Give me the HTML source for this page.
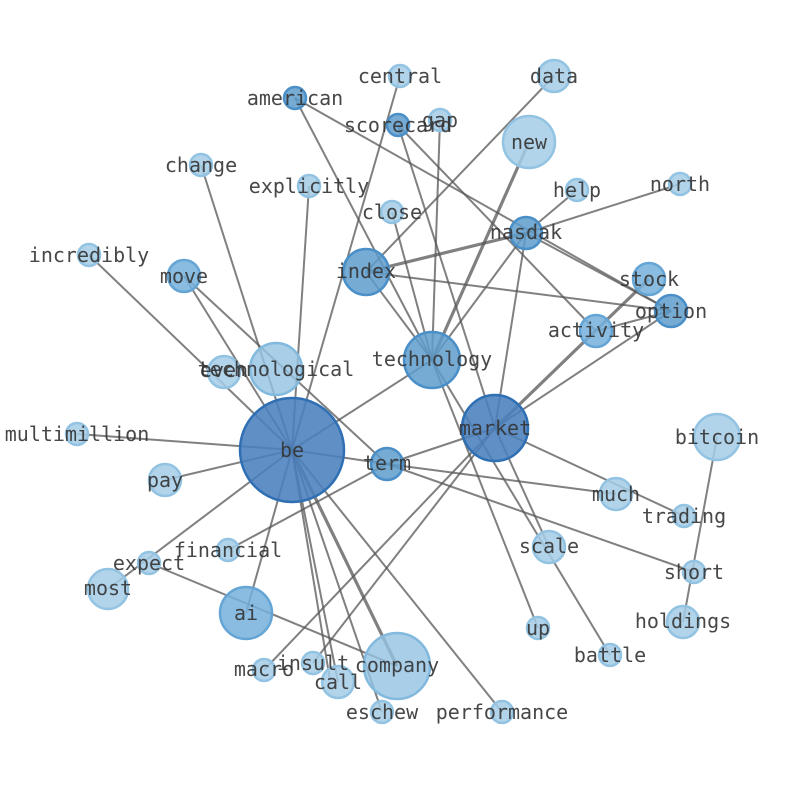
<!DOCTYPE html>
<html><head><meta charset="utf-8"><style>
html,body{margin:0;padding:0;background:#fff;}
svg{display:block;}
text{font-family:"DejaVu Sans Mono","Liberation Mono",monospace;font-size:20px;fill:#333;fill-opacity:0.9;text-anchor:middle;dominant-baseline:central;}
line{stroke:#555;stroke-opacity:0.75;stroke-width:2;}
.t{stroke-width:3.2;}
circle{stroke-width:2.5;}
.d{fill:#4a80bd;fill-opacity:0.88;stroke:#2f6fb3;}
.m{fill:#5e9ccd;fill-opacity:0.85;stroke:#4a8fc8;}
.n{fill:#74b0da;fill-opacity:0.85;stroke:#64a5d5;}
.l{fill:#92c2e2;fill-opacity:0.8;stroke:#82b9de;}
.s{fill:#a5cde6;fill-opacity:0.85;stroke:#92c3e2;}
</style></head><body>
<svg width="794" height="790" viewBox="0 0 794 790" xmlns="http://www.w3.org/2000/svg">
<g>
<line x1="292" y1="450" x2="89" y2="255"/>
<line x1="292" y1="450" x2="77" y2="434"/>
<line x1="292" y1="450" x2="165" y2="480"/>
<line x1="292" y1="450" x2="108" y2="589"/>
<line x1="292" y1="450" x2="246" y2="613"/>
<line x1="292" y1="450" x2="184" y2="276"/>
<line x1="292" y1="450" x2="201" y2="165"/>
<line x1="292" y1="450" x2="309" y2="186"/>
<line x1="292" y1="450" x2="400" y2="76"/>
<line x1="292" y1="450" x2="432" y2="360"/>
<line x1="292" y1="450" x2="387" y2="464"/>
<line class="t" x1="292" y1="450" x2="397" y2="666"/>
<line x1="292" y1="450" x2="338" y2="682"/>
<line x1="292" y1="450" x2="330" y2="680"/>
<line x1="292" y1="450" x2="382" y2="712"/>
<line x1="292" y1="450" x2="502" y2="712"/>
<line x1="184" y1="276" x2="387" y2="464"/>
<line x1="295" y1="98" x2="432" y2="360"/>
<line x1="295" y1="98" x2="671" y2="311"/>
<line x1="398" y1="125" x2="495" y2="428"/>
<line x1="398" y1="125" x2="596" y2="331"/>
<line x1="440" y1="120" x2="432" y2="360"/>
<line x1="392" y1="212" x2="432" y2="360"/>
<line x1="554" y1="76" x2="366" y2="272"/>
<line class="t" x1="529" y1="142" x2="432" y2="360"/>
<line x1="577" y1="190" x2="526" y2="233"/>
<line x1="680" y1="184" x2="526" y2="233"/>
<line class="t" x1="526" y1="233" x2="366" y2="272"/>
<line x1="526" y1="233" x2="432" y2="360"/>
<line x1="526" y1="233" x2="495" y2="428"/>
<line x1="526" y1="233" x2="671" y2="311"/>
<line x1="366" y1="272" x2="671" y2="311"/>
<line x1="366" y1="272" x2="432" y2="360"/>
<line class="t" x1="649" y1="279" x2="495" y2="428"/>
<line x1="671" y1="311" x2="495" y2="428"/>
<line x1="596" y1="331" x2="671" y2="311"/>
<line x1="495" y1="428" x2="387" y2="464"/>
<line x1="495" y1="428" x2="684" y2="516"/>
<line x1="495" y1="428" x2="549" y2="547"/>
<line x1="495" y1="428" x2="264" y2="670"/>
<line x1="495" y1="428" x2="313" y2="663"/>
<line x1="432" y1="360" x2="610" y2="655"/>
<line x1="432" y1="360" x2="538" y2="628"/>
<line x1="387" y1="464" x2="616" y2="494"/>
<line x1="387" y1="464" x2="694" y2="572"/>
<line x1="387" y1="464" x2="228" y2="550"/>
<line x1="149" y1="563" x2="397" y2="666"/>
<line x1="717" y1="437" x2="683" y2="622"/>
</g>
<g>
<circle class="s" cx="400" cy="76" r="11"/>
<circle class="m" cx="295" cy="98" r="11"/>
<circle class="m" cx="398" cy="125" r="11"/>
<circle class="s" cx="440" cy="120" r="11"/>
<circle class="s" cx="201" cy="165" r="11"/>
<circle class="s" cx="309" cy="186" r="11"/>
<circle class="s" cx="392" cy="212" r="11"/>
<circle class="s" cx="577" cy="190" r="11"/>
<circle class="s" cx="680" cy="184" r="11"/>
<circle class="s" cx="89" cy="255" r="11"/>
<circle class="s" cx="77" cy="434" r="11"/>
<circle class="s" cx="228" cy="550" r="11"/>
<circle class="s" cx="149" cy="563" r="11"/>
<circle class="s" cx="684" cy="516" r="11"/>
<circle class="s" cx="694" cy="572" r="11"/>
<circle class="s" cx="538" cy="628" r="11"/>
<circle class="s" cx="610" cy="655" r="11"/>
<circle class="s" cx="264" cy="670" r="11"/>
<circle class="s" cx="313" cy="663" r="11"/>
<circle class="s" cx="382" cy="712" r="11"/>
<circle class="s" cx="502" cy="712" r="11"/>
<circle class="s" cx="554" cy="76" r="16"/>
<circle class="s" cx="529" cy="142" r="26"/>
<circle class="s" cx="717" cy="437" r="23"/>
<circle class="s" cx="108" cy="589" r="20"/>
<circle class="s" cx="165" cy="480" r="16"/>
<circle class="s" cx="616" cy="494" r="16"/>
<circle class="s" cx="549" cy="547" r="16"/>
<circle class="s" cx="683" cy="622" r="16"/>
<circle class="s" cx="338" cy="682" r="16"/>
<circle class="s" cx="224" cy="372" r="16"/>
<circle class="l" cx="397" cy="666" r="33"/>
<circle class="l" cx="276" cy="369" r="26"/>
<circle class="n" cx="649" cy="279" r="16"/>
<circle class="n" cx="184" cy="276" r="16"/>
<circle class="n" cx="246" cy="613" r="26"/>
<circle class="n" cx="596" cy="331" r="16"/>
<circle class="m" cx="671" cy="311" r="16"/>
<circle class="m" cx="526" cy="233" r="16"/>
<circle class="m" cx="387" cy="464" r="16"/>
<circle class="m" cx="366" cy="272" r="23"/>
<circle class="m" cx="432" cy="360" r="28"/>
<circle class="d" cx="495" cy="428" r="33"/>
<circle class="d" cx="292" cy="450" r="52"/>
</g>
<g>
<text x="400" y="76">central</text>
<text x="554" y="76">data</text>
<text x="295" y="98">american</text>
<text x="398" y="125">scorecard</text>
<text x="440" y="120">gap</text>
<text x="529" y="142">new</text>
<text x="201" y="165">change</text>
<text x="309" y="186">explicitly</text>
<text x="577" y="190">help</text>
<text x="680" y="184">north</text>
<text x="392" y="212">close</text>
<text x="526" y="232">nasdak</text>
<text x="89" y="255">incredibly</text>
<text x="366" y="271">index</text>
<text x="184" y="276">move</text>
<text x="649" y="279">stock</text>
<text x="671" y="311">option</text>
<text x="596" y="330">activity</text>
<text x="432" y="359">technology</text>
<text x="224" y="370">even</text>
<text x="276" y="369">technological</text>
<text x="495" y="428">market</text>
<text x="77" y="434">multimillion</text>
<text x="717" y="437">bitcoin</text>
<text x="292" y="450">be</text>
<text x="387" y="463">term</text>
<text x="165" y="480">pay</text>
<text x="616" y="494">much</text>
<text x="684" y="516">trading</text>
<text x="549" y="546">scale</text>
<text x="228" y="550">financial</text>
<text x="149" y="563">expect</text>
<text x="694" y="572">short</text>
<text x="108" y="588">most</text>
<text x="246" y="613">ai</text>
<text x="683" y="621">holdings</text>
<text x="538" y="628">up</text>
<text x="610" y="655">battle</text>
<text x="264" y="669">macro</text>
<text x="313" y="663">insult</text>
<text x="397" y="665">company</text>
<text x="338" y="682">call</text>
<text x="382" y="712">eschew</text>
<text x="502" y="712">performance</text>
</g>
</svg>
</body></html>
